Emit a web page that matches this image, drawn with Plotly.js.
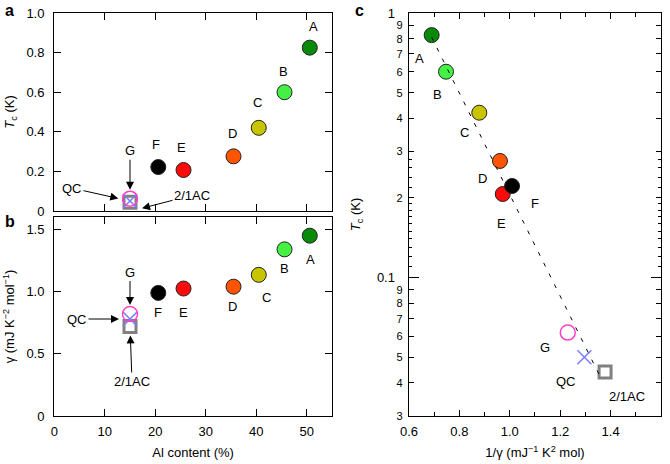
<!DOCTYPE html>
<html>
<head>
<meta charset="utf-8">
<script src="https://cdn.plot.ly/plotly-3.0.1.min.js"></script>
<style>
  html, body { margin: 0; padding: 0; background: #fff; }
  #plot { width: 670px; height: 464px; }
</style>
</head>
<body>
<div id="plot"></div>
<script>
// samples A-F
var names = ['A', 'B', 'C', 'D', 'E', 'F'];
var alContent = [50.6, 45.6, 40.5, 35.5, 25.6, 20.6];
var tcK = [0.825, 0.60, 0.42, 0.276, 0.207, 0.222];
var gamma = [1.45, 1.34, 1.135, 1.04, 1.025, 0.99];
var invGamma = [0.69, 0.747, 0.879, 0.961, 0.972, 1.009];
var colors = ['#0a8a0a', '#44f044', '#c8c400', '#ff5500', '#ff0a0a', '#000000'];

// G, QC, 2/1AC
var specNames = ['G', 'QC', '2/1AC'];
var specAl = [15, 15, 15];
var specTc = [0.062, 0.050, 0.044];
var specGamma = [0.82, 0.78, 0.72];
var specInvGamma = [1.23, 1.296, 1.378];

// dashed fit in panel c
var fitX = [0.69, 1.36];
var fitTc = [0.81, 0.042];

// tick labels
var tcTickVals = [0, 0.2, 0.4, 0.6, 0.8, 1.0];
var tcTickText = ['0', '0.2', '0.4', '0.6', '0.8', '1.0'];
var gTickVals = [0, 0.5, 1.0, 1.5];
var gTickText = ['0', '0.5', '1.0', '1.5'];
var alTickVals = [0, 10, 20, 30, 40, 50];
var invTickVals = [0.6, 0.8, 1.0, 1.2, 1.4, 1.6];
var invTickText = ['0.6', '0.8', '1.0', '1.2', '1.4', '1.6'];
var logMinorVals = [0.9, 0.8, 0.7, 0.6, 0.5, 0.4, 0.3, 0.2, 0.09, 0.08, 0.07, 0.06, 0.05, 0.04, 0.03];
var logMinorText = ['9', '8', '7', '6', '5', '4', '3', '2', '9', '8', '7', '6', '5', '4', '3'];
var logMajorVals = [1, 0.1];
var logMajorText = ['1', '0.1'];
var logSubVals = [0.28, 0.26, 0.24, 0.22, 0.19, 0.18, 0.17, 0.16, 0.15, 0.14, 0.13, 0.12, 0.11];

// label offsets in px (dx right, dy down)
var offA = [[4, -21], [-1, -21], [-1, -25], [-1, -23], [-2, -23], [-2, -23]];
var offB = [[1, 24], [0, 19], [8, 23], [-1, 20], [0, 24], [0, 20]];
var offC = [[-12, 23], [-9, 23], [-15, 20], [-17, 18], [-1, 29], [23, 18]];
var offCspec = [[-23, 15], [-18, 24], [22, 24]];

var font = 'Liberation Sans, Arial, Helvetica, sans-serif';
var dotLine = {color: '#222', width: 1};

function mainTrace(x, y, xa, ya) {
    return {
        x: x, y: y, xaxis: xa, yaxis: ya, type: 'scatter', mode: 'markers',
        marker: {size: 15, color: colors, line: dotLine},
        hoverinfo: 'skip', showlegend: false
    };
}

function specTraces(x, y, xa, ya) {
    return [
        {x: [x[2]], y: [y[2]], xaxis: xa, yaxis: ya, type: 'scatter', mode: 'markers',
         marker: {symbol: 'square-open', size: 12, color: '#808080', line: {width: 3, color: '#808080'}},
         hoverinfo: 'skip', showlegend: false},
        {x: [x[1]], y: [y[1]], xaxis: xa, yaxis: ya, type: 'scatter', mode: 'markers',
         marker: {symbol: 'x-thin-open', size: 14, color: '#7b7bff', line: {width: 1.5, color: '#7b7bff'}},
         hoverinfo: 'skip', showlegend: false},
        {x: [x[0]], y: [y[0]], xaxis: xa, yaxis: ya, type: 'scatter', mode: 'markers',
         marker: {symbol: 'circle-open', size: 15, color: '#ff40c8', line: {width: 1.5, color: '#ff40c8'}},
         hoverinfo: 'skip', showlegend: false}
    ];
}

var data = [];
data.push(mainTrace(alContent, tcK, 'x', 'y'));
data = data.concat(specTraces(specAl, specTc, 'x', 'y'));
data.push(mainTrace(alContent, gamma, 'x2', 'y2'));
data = data.concat(specTraces(specAl, specGamma, 'x2', 'y2'));
data.push({
    x: fitX, y: fitTc, xaxis: 'x3', yaxis: 'y4', type: 'scatter', mode: 'lines',
    line: {color: '#000', width: 1, dash: '4px,8px'}, hoverinfo: 'skip', showlegend: false
});
data.push(mainTrace(invGamma, tcK, 'x3', 'y3'));
data = data.concat(specTraces(specInvGamma, specTc, 'x3', 'y3'));

var ann = [];
function label(xa, ya, x, y, t, off) {
    ann.push({xref: xa, yref: ya, x: x, y: y, text: t, showarrow: false,
              xshift: off[0], yshift: -off[1], font: {family: font, size: 13, color: '#000'}});
}
function arrow(xa, ya, x, y, t, ax, ay, standoff, shx, shy) {
    ann.push({xref: xa, yref: ya, x: x, y: y, text: t, showarrow: true,
              ax: ax, ay: ay, standoff: standoff, xshift: shx || 0, yshift: shy || 0,
              arrowhead: 2, arrowsize: 1.6, arrowwidth: 1, arrowcolor: '#000',
              font: {family: font, size: 13, color: '#000'}});
}
for (var i = 0; i < names.length; i++) {
    label('x', 'y', alContent[i], tcK[i], names[i], offA[i]);
    label('x2', 'y2', alContent[i], gamma[i], names[i], offB[i]);
    // log axis: annotation y is given in log10 units
    label('x3', 'y3', invGamma[i], Math.log10(tcK[i]), names[i], offC[i]);
}
for (var j = 0; j < specNames.length; j++) {
    label('x3', 'y3', specInvGamma[j], Math.log10(specTc[j]), specNames[j], offCspec[j]);
}
// panel a arrows
arrow('x', 'y', specAl[0], specTc[0], 'G', 0, -48, 9);
arrow('x', 'y', specAl[1], specTc[1], 'QC', -58, -13, 12);
arrow('x', 'y', specAl[2], specTc[2], '2/1AC', 50, -13, 0, 12, -6);
// panel b arrows
arrow('x2', 'y2', specAl[0], specGamma[0], 'G', 0, -42, 9);
arrow('x2', 'y2', specAl[1], specGamma[1], 'QC', -53, 0, 11);
arrow('x2', 'y2', specAl[2], specGamma[2], '2/1AC', 2, 55, 9);

// panel letters
[['a', 0.004, 1.0], ['b', 0.004, 0.545], ['c', 0.527, 1.0]].forEach(function (p) {
    ann.push({xref: 'paper', yref: 'paper', x: p[1], y: p[2], xanchor: 'left', yanchor: 'top',
              text: '<b>' + p[0] + '</b>', showarrow: false,
              font: {family: font, size: 16, color: '#000'}});
});

var tickFont = {family: font, size: 13, color: '#000'};
function frame(extra) {
    var a = {
        showline: true, linecolor: '#000', linewidth: 1.2, mirror: 'ticks',
        ticks: 'inside', ticklen: 7, tickwidth: 1, tickcolor: '#000',
        showgrid: false, zeroline: false, tickfont: tickFont, fixedrange: true
    };
    for (var k in extra) a[k] = extra[k];
    return a;
}

var layout = {
    width: 670, height: 464,
    margin: {l: 0, r: 0, t: 0, b: 0},
    paper_bgcolor: '#fff', plot_bgcolor: '#fff',
    showlegend: false,
    font: {family: font, color: '#000'},
    xaxis: frame({domain: [0.081, 0.4955], anchor: 'y', range: [0, 55],
                  tickvals: alTickVals, showticklabels: false}),
    yaxis: frame({domain: [0.5453, 0.972], anchor: 'x', range: [0, 1],
                  tickvals: tcTickVals, ticktext: tcTickText, ticklabelstandoff: 6,
                  title: {text: '<i>T</i><sub>c</sub> (K)', font: {family: font, size: 13}, standoff: 8}}),
    xaxis2: frame({domain: [0.081, 0.4955], anchor: 'y2', range: [0, 55],
                   tickvals: alTickVals, ticklabelstandoff: 3,
                   title: {text: 'Al content (%)', font: {family: font, size: 13}, standoff: 10}}),
    yaxis2: frame({domain: [0.1034, 0.5323], anchor: 'x2', range: [0, 1.6],
                   tickvals: gTickVals, ticktext: gTickText, ticklabelstandoff: 6,
                   title: {text: 'γ (mJ K<sup>−2</sup> mol<sup>−1</sup>)', font: {family: font, size: 13}, standoff: 8}}),
    xaxis3: frame({domain: [0.6104, 0.9866], anchor: 'y3', range: [0.6, 1.6],
                   tickvals: invTickVals, ticktext: invTickText, ticklen: 6, ticklabelstandoff: 3,
                   minor: {dtick: 0.1, ticklen: 4, ticks: 'inside', tickcolor: '#000'},
                   title: {text: '1/γ (mJ<sup>−1</sup> K<sup>2</sup> mol)', font: {family: font, size: 13}, standoff: 10}}),
    yaxis3: frame({domain: [0.1034, 0.972], anchor: 'x3', type: 'log',
                   range: [Math.log10(0.03), 0],
                   tickvals: logMinorVals, ticktext: logMinorText, ticklen: 5,
                   tickfont: {family: font, size: 11, color: '#000'}, ticklabelstandoff: 3,
                   minor: {tickvals: logSubVals, ticklen: 3, ticks: 'inside', tickcolor: '#000'},
                   title: {text: '<i>T</i><sub>c</sub> (K)', font: {family: font, size: 13}, standoff: 32}}),
    yaxis4: frame({domain: [0.1034, 0.972], anchor: 'x3', overlaying: 'y3', side: 'left',
                   type: 'log', range: [Math.log10(0.03), 0], showline: false,
                   tickvals: logMajorVals, ticktext: logMajorText, ticklen: 10,
                   ticklabelstandoff: 13}),
    annotations: ann
};

Plotly.newPlot('plot', data, layout, {displayModeBar: false, staticPlot: true});
</script>
</body>
</html>
